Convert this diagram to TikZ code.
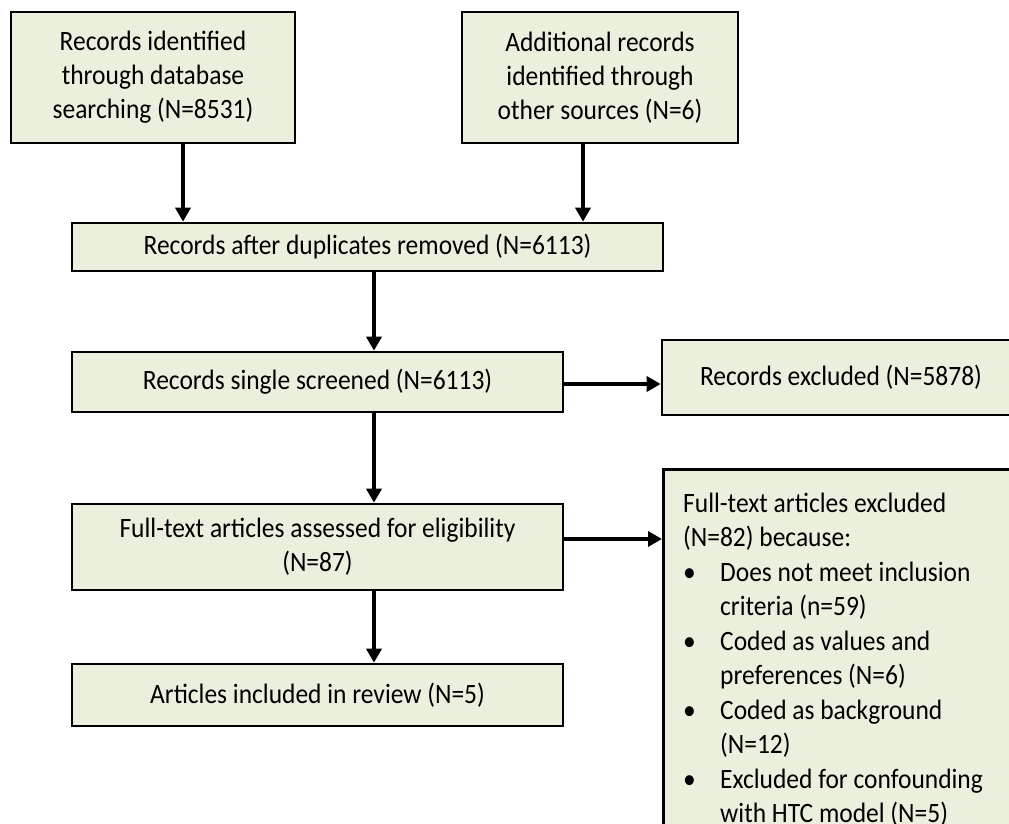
\documentclass[tikz,border=0pt]{standalone}
\usepackage{fontspec}
\setmainfont{Carlito}[FakeStretch=0.91]
\usetikzlibrary{arrows.meta}
\definecolor{boxfill}{RGB}{235,240,222}
\begin{document}
\begin{tikzpicture}[x=1pt,y=-1pt,
  box/.style={draw=black, line width=2.6pt, fill=boxfill, inner sep=0pt, align=center, font=\fontsize{28}{34}\selectfont},
  arr/.style={line width=3.4pt, -{Triangle[length=14pt,width=15pt]}},
  txt/.style={font=\fontsize{28}{34.5}\selectfont, align=left, inner sep=0pt}]
\useasboundingbox (0,0) rectangle (1009,824);
\clip (0,0) rectangle (1009,824);

\node[box, minimum width=284pt, minimum height=131pt] (A) at (153,77.5)
  {Records identified\\through database\\searching (N=8531)};
\node[box, minimum width=276pt, minimum height=131pt] (B) at (600,77.5)
  {Additional records\\identified through\\other sources (N=6)};
\node[box, minimum width=591pt, minimum height=48pt] (C) at (367.5,247)
  {Records after duplicates removed (N=6113)};
\node[box, minimum width=491pt, minimum height=60pt] (D) at (317.5,382)
  {Records single screened (N=6113)};
\node[box, minimum width=358pt, minimum height=75pt] (RE) at (841,377.5)
  {Records excluded (N=5878)};
\node[box, minimum width=491pt, minimum height=86pt] (E) at (317.5,547)
  {Full-text articles assessed for eligibility\\(N=87)};
\node[box, minimum width=491pt, minimum height=62pt] (F) at (317.5,695)
  {Articles included in review (N=5)};
\node[box, anchor=north west, minimum width=400pt, minimum height=420pt] (G) at (662,468) {};
\node[txt, anchor=base west] (Gt) at (683,822.5)
  {Full-text articles excluded\\
   (N=82) because:\\
   \makebox[37pt][l]{\textbullet}Does not meet inclusion\\
   \hspace*{37pt}criteria (n=59)\\
   \makebox[37pt][l]{\textbullet}Coded as values and\\
   \hspace*{37pt}preferences (N=6)\\
   \makebox[37pt][l]{\textbullet}Coded as background\\
   \hspace*{37pt}(N=12)\\
   \makebox[37pt][l]{\textbullet}Excluded for confounding\\
   \hspace*{37pt}with HTC model (N=5)};

\coordinate (xa) at (183,0);
\coordinate (xb) at (583,0);
\coordinate (xm) at (374,0);
\coordinate (yd) at (0,384);
\coordinate (ye) at (0,539);

\draw[arr] (A.south -| xa) -- (C.north -| xa);
\draw[arr] (B.south -| xb) -- (C.north -| xb);
\draw[arr] (C.south -| xm) -- (D.north -| xm);
\draw[arr] (D.east |- yd) -- (RE.west |- yd);
\draw[arr] (D.south -| xm) -- (E.north -| xm);
\draw[arr] (E.east |- ye) -- (G.west |- ye);
\draw[arr] (E.south -| xm) -- (F.north -| xm);
\end{tikzpicture}
\end{document}
